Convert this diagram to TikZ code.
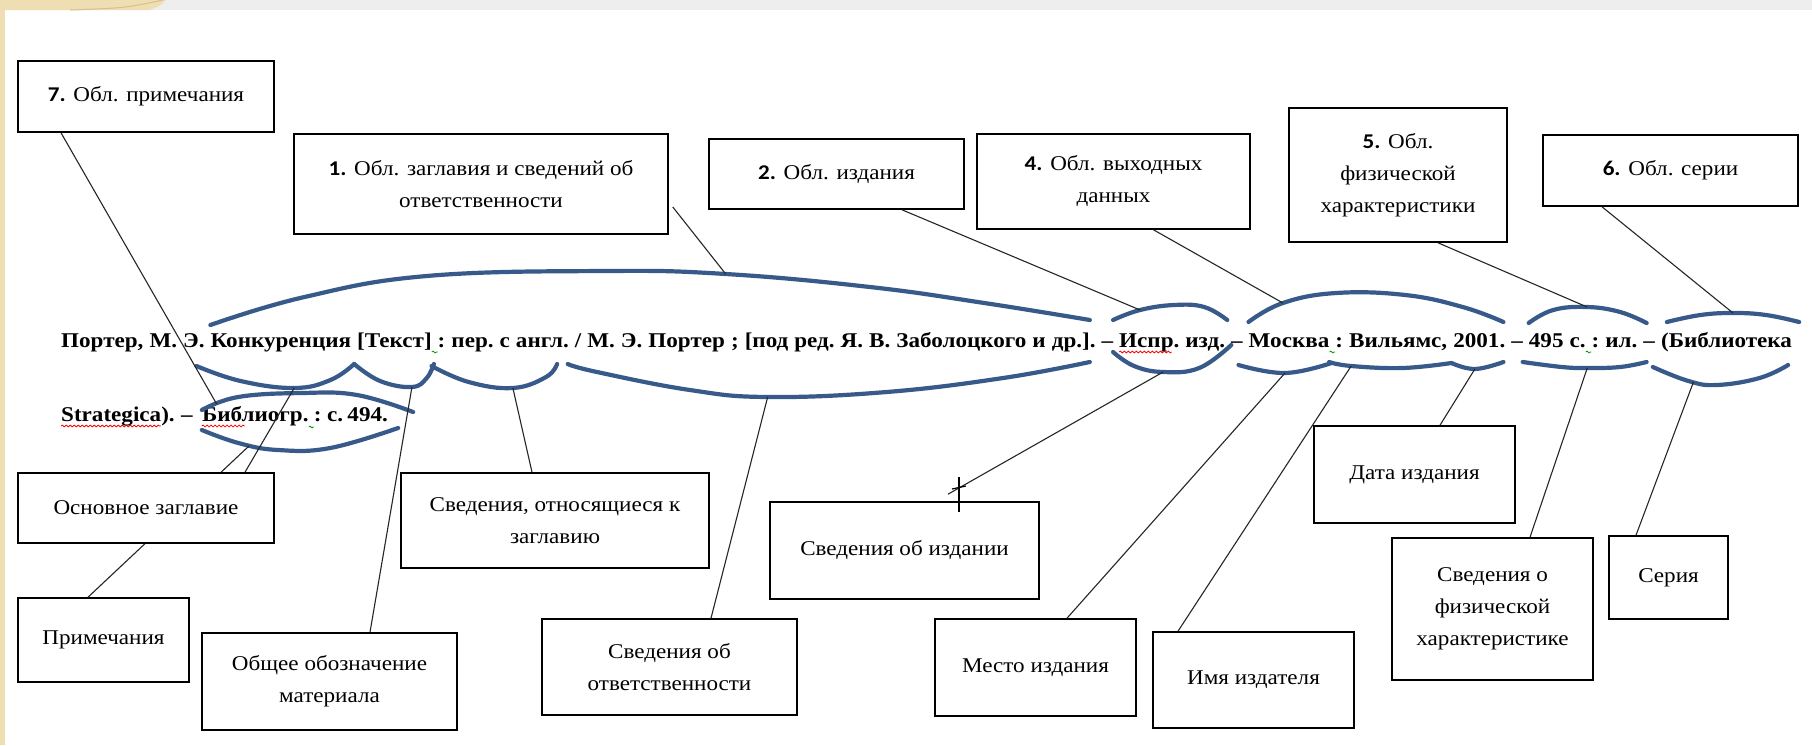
\documentclass[tikz,border=0pt]{standalone}
\usepackage{graphicx}
\usepackage{fontspec}
\setmainfont{Liberation Serif}
\newfontfamily\numfont{Carlito}
\usetikzlibrary{calc,decorations.pathmorphing}
\definecolor{arcblue}{RGB}{56,90,138}
\definecolor{beige}{RGB}{238,222,178}
\definecolor{beigedark}{RGB}{214,192,140}
\definecolor{topgray}{RGB}{238,238,238}
\newcommand{\nb}[1]{{\numfont\bfseries #1}}
\newcommand{\sx}[1]{\scalebox{1.1}[1]{#1}}
\newlength\natw
\newlength\gapw
\newcommand{\xref}[3]{\coordinate (tmp#1) at ([xshift=#3pt]#2); \coordinate (#1) at (tmp#1 |- 0,0);}
\newcommand{\Wn}[3]{\node[wrd] (#1) at ([xshift=\gapw]#2.base east) {\sx{#3}};}
\begin{document}%
\settowidth\natw{\fontsize{21}{24}\selectfont\bfseries Портер,М.Э.Конкуренция[Текст]:пер.сангл./М.Э.Портер;[подред.Я.В.Заболоцкогоидр.].–Испр.изд.–Москва:Вильямс,2001.–495с.:ил.–(Библиотека}%
\global\natw=\natw%
\setlength\gapw{\dimexpr(1717pt-\natw*11/10)/35\relax}%
\global\gapw=\gapw%
\begin{tikzpicture}[x=1pt,y=-1pt,
  lbl/.style={draw=black, line width=1.6pt, fill=white, inner sep=2pt, align=center, font=\fontsize{21}{32}\selectfont},
  wrd/.style={anchor=base west, inner sep=0pt, font=\fontsize{21}{24}\selectfont\bfseries},
  brace/.style={draw=arcblue, line width=4.2pt, line cap=round},
  conn/.style={draw=black!85, line width=1.1pt},
  squig/.style={decorate, decoration={snake, amplitude=0.9pt, segment length=4pt}, line width=0.8pt}]
\useasboundingbox (0,0) rectangle (1812,745);
% background
\fill[white] (0,0) rectangle (1812,745);
\fill[topgray] (0,0) rectangle (1812,10);
\fill[beige] (0,0) rectangle (5,745);
\fill[beige] (0,0) -- (166,0) .. controls (160,6) .. (150,10) -- (0,10) -- cycle;
\draw[beigedark, line width=1pt] (70,10) .. controls (125,8) .. (163,0);

% ---------- line 1, justified word by word ----------
\node[wrd] (w1) at (61,347) {\sx{Портер,}};
\Wn{w2}{w1}{М.}
\Wn{w3}{w2}{Э.}
\Wn{w4}{w3}{Конкуренция}
\Wn{w5}{w4}{[Текст]}
\Wn{w6}{w5}{:}
\Wn{w7}{w6}{пер.}
\Wn{w8}{w7}{с}
\Wn{w9}{w8}{англ.}
\Wn{w10}{w9}{/}
\Wn{w11}{w10}{М.}
\Wn{w12}{w11}{Э.}
\Wn{w13}{w12}{Портер}
\Wn{w14}{w13}{;}
\Wn{w15}{w14}{[под}
\Wn{w16}{w15}{ред.}
\Wn{w17}{w16}{Я.}
\Wn{w18}{w17}{В.}
\Wn{w19}{w18}{Заболоцкого}
\Wn{w20}{w19}{и}
\Wn{w21}{w20}{др.].}
\Wn{w22}{w21}{–}
\Wn{w23}{w22}{Испр.}
\Wn{w24}{w23}{изд.}
\Wn{w25}{w24}{–}
\Wn{w26}{w25}{Москва}
\Wn{w27}{w26}{:}
\Wn{w28}{w27}{Вильямс,}
\Wn{w29}{w28}{2001.}
\Wn{w30}{w29}{–}
\Wn{w31}{w30}{495}
\Wn{w32}{w31}{с.}
\Wn{w33}{w32}{:}
\Wn{w34}{w33}{ил.}
\Wn{w35}{w34}{–}
\Wn{w36}{w35}{(Библиотека}

% ---------- line 2 ----------
\node[wrd] (s1) at (61,421) {\sx{Strategica).}};
\node[wrd] (s2) at ([xshift=6pt]s1.base east) {\sx{–}};
\node[wrd] (s3) at ([xshift=9pt]s2.base east) {\sx{Библиогр.}};
\node[wrd] (s4) at ([xshift=5pt]s3.base east) {\sx{:}};
\node[wrd] (s5) at ([xshift=5pt]s4.base east) {\sx{с.}};
\node[wrd] (s6) at ([xshift=4pt]s5.base east) {\sx{494.}};

% spell-check squiggles
\draw[squig, red] ([yshift=-5pt]s1.base west) -- ([yshift=-5pt,xshift=-14pt]s1.base east);
\draw[squig, red] ([yshift=-5pt]s3.base west) -- ($([yshift=-5pt]s3.base west)!0.4!([yshift=-5pt]s3.base east)$);
\draw[squig, green!60!black] ([yshift=-6pt]s3.base east) -- ([yshift=-6pt]s4.base west);
\draw[squig, red] ([yshift=-5pt]w23.base west) -- ([yshift=-5pt,xshift=-8pt]w23.base east);
\draw[squig, green!60!black] ([yshift=-5pt]w5.base east) -- ([yshift=-5pt]w6.base west);
\draw[squig, green!60!black] ([yshift=-5pt]w26.base east) -- ([yshift=-5pt]w27.base west);
\draw[squig, green!60!black] ([yshift=-5pt]w32.base east) -- ([yshift=-5pt]w33.base west);

% ---------- horizontal references for the curves ----------
\coordinate (j45) at ($(w4.base east)!0.5!(w5.base west)$);
\xref{AL}{w4.base west}{0}
\xref{AR}{w21.base east}{-6}
\xref{BL}{w10.base west}{-7}
\xref{BR}{w21.base east}{-6}
\xref{CL}{w4.base west}{-14}
\xref{CR}{j45}{0}
\xref{DL}{j45}{0}
\xref{DR}{w5.base east}{2}
\xref{EL}{w6.base west}{-6}
\xref{ER}{w9.base east}{-12}
\xref{FL}{w23.base west}{-6}
\xref{FR}{w24.base east}{2}
\xref{FRb}{w24.base east}{6}
\xref{GL}{w26.base west}{0}
\xref{GR}{w29.base east}{-2}
\xref{HL}{w26.base west}{-10}
\xref{HR}{w26.base east}{2}
\xref{IL}{w27.base west}{-6}
\xref{IR}{w28.base east}{4}
\xref{JR}{w29.base east}{-2}
\xref{KL}{w31.base west}{0}
\xref{KR}{w34.base east}{9}
\xref{LL}{w31.base west}{-6}
\xref{ML}{w36.base west}{6}
\xref{MR}{w36.base east}{7}
\xref{NL}{w36.base west}{-8}
\xref{NR}{w36.base east}{-4}
\xref{PL}{s3.base west}{0}
\xref{PR}{s6.base east}{25}
\xref{QR}{s6.base east}{10}

% ---------- curves ----------
\draw[brace] plot[smooth, tension=0.7] coordinates {($(AL)!0!(AR)+(0,325)$) ($(AL)!0.107!(AR)+(0,297)$) ($(AL)!0.246!(AR)+(0,276)$) ($(AL)!0.449!(AR)+(0,271)$) ($(AL)!0.586!(AR)+(0,274)$) ($(AL)!0.75!(AR)+(0,287)$) ($(AL)!0.88!(AR)+(0,303)$) ($(AL)!1!(AR)+(0,320)$)};
\draw[brace] plot[smooth, tension=0.7] coordinates {($(BL)!0!(BR)+(0,364)$) ($(BL)!0.056!(BR)+(0,372)$) ($(BL)!0.234!(BR)+(0,390)$) ($(BL)!0.383!(BR)+(0,397)$) ($(BL)!0.611!(BR)+(0,392)$) ($(BL)!0.834!(BR)+(0,378)$) ($(BL)!1!(BR)+(0,362)$)};
\draw[brace] plot[smooth, tension=0.7] coordinates {($(CL)!0!(CR)+(0,366)$) ($(CL)!0.28!(CR)+(0,381)$) ($(CL)!0.62!(CR)+(0,388)$) ($(CL)!0.85!(CR)+(0,380)$) ($(CL)!1!(CR)+(0,364)$)};
\draw[brace] plot[smooth, tension=0.7] coordinates {($(DL)!0!(DR)+(0,364)$) ($(DL)!0.325!(DR)+(0,381)$) ($(DL)!0.725!(DR)+(0,387)$) ($(DL)!0.91!(DR)+(0,378)$) ($(DL)!1!(DR)+(0,364)$)};
\draw[brace] plot[smooth, tension=0.7] coordinates {($(EL)!0!(ER)+(0,366)$) ($(EL)!0.296!(ER)+(0,382)$) ($(EL)!0.648!(ER)+(0,388)$) ($(EL)!0.912!(ER)+(0,377)$) ($(EL)!1!(ER)+(0,364)$)};
\draw[brace] plot[smooth, tension=0.7] coordinates {($(FL)!0!(FR)+(0,320)$) ($(FL)!0.237!(FR)+(0,310)$) ($(FL)!0.535!(FR)+(0,305)$) ($(FL)!0.798!(FR)+(0,307)$) ($(FL)!1!(FR)+(0,320)$)};
\draw[brace] plot[smooth, tension=0.7] coordinates {($(FL)!0!(FRb)+(0,352)$) ($(FL)!0.178!(FRb)+(0,366)$) ($(FL)!0.424!(FRb)+(0,372)$) ($(FL)!0.729!(FRb)+(0,368)$) ($(FL)!1!(FRb)+(0,345)$)};
\draw[brace] plot[smooth, tension=0.7] coordinates {($(GL)!0!(GR)+(0,322)$) ($(GL)!0.135!(GR)+(0,303)$) ($(GL)!0.344!(GR)+(0,293)$) ($(GL)!0.615!(GR)+(0,295)$) ($(GL)!0.84!(GR)+(0,307)$) ($(GL)!1!(GR)+(0,322)$)};
\draw[brace] plot[smooth, tension=0.7] coordinates {($(HL)!0!(HR)+(0,365)$) ($(HL)!0.5!(HR)+(0,373)$) ($(HL)!1!(HR)+(0,363)$)};
\draw[brace] plot[smooth, tension=0.7] coordinates {($(IL)!0!(IR)+(0,362)$) ($(IL)!0.18!(IR)+(0,366)$) ($(IL)!0.6!(IR)+(0,368)$) ($(IL)!1!(IR)+(0,363)$)};
\draw[brace] plot[smooth, tension=0.7] coordinates {($(IR)!0!(JR)+(0,363)$) ($(IR)!0.45!(JR)+(0,369)$) ($(IR)!1!(JR)+(0,362)$)};
\draw[brace] plot[smooth, tension=0.7] coordinates {($(KL)!0!(KR)+(0,323)$) ($(KL)!0.207!(KR)+(0,310)$) ($(KL)!0.495!(KR)+(0,307)$) ($(KL)!0.775!(KR)+(0,312)$) ($(KL)!1!(KR)+(0,323)$)};
\draw[brace] plot[smooth, tension=0.7] coordinates {($(LL)!0!(KR)+(0,362)$) ($(LL)!0.316!(KR)+(0,367)$) ($(LL)!0.521!(KR)+(0,368)$) ($(LL)!0.786!(KR)+(0,367)$) ($(LL)!1!(KR)+(0,362)$)};
\draw[brace] plot[smooth, tension=0.7] coordinates {($(ML)!0!(MR)+(0,322)$) ($(ML)!0.254!(MR)+(0,315)$) ($(ML)!0.5!(MR)+(0,313)$) ($(ML)!0.75!(MR)+(0,315)$) ($(ML)!1!(MR)+(0,322)$)};
\draw[brace] plot[smooth, tension=0.7] coordinates {($(NL)!0!(NR)+(0,367)$) ($(NL)!0.263!(NR)+(0,381)$) ($(NL)!0.474!(NR)+(0,385)$) ($(NL)!0.789!(NR)+(0,378)$) ($(NL)!1!(NR)+(0,365)$)};
\draw[brace] plot[smooth, tension=0.7] coordinates {($(PL)!0!(PR)+(0,410)$) ($(PL)!0.172!(PR)+(0,397)$) ($(PL)!0.473!(PR)+(0,393)$) ($(PL)!0.734!(PR)+(0,395)$) ($(PL)!1!(PR)+(0,412)$)};
\draw[brace] plot[smooth, tension=0.7] coordinates {($(PL)!0!(QR)+(0,430)$) ($(PL)!0.186!(QR)+(0,443)$) ($(PL)!0.388!(QR)+(0,450)$) ($(PL)!0.654!(QR)+(0,448)$) ($(PL)!1!(QR)+(0,428)$)};

% ---------- connector end points on the curves ----------
\coordinate (e7) at ($(PL)!0.07!(PR)+(0,404)$);
\coordinate (e1) at ($(AL)!0.586!(AR)+(0,274)$);
\coordinate (e2) at ($(FL)!0.237!(FR)+(0,310)$);
\coordinate (e4) at ($(GL)!0.135!(GR)+(0,303)$);
\coordinate (e5) at ($(KL)!0.495!(KR)+(0,307)$);
\coordinate (e6) at ($(ML)!0.5!(MR)+(0,313)$);
\coordinate (ep) at ($(PL)!0.24!(QR)+(0,446)$);
\coordinate (eo) at ($(CL)!0.62!(CR)+(0,388)$);
\coordinate (eg) at ($(DL)!0.725!(DR)+(0,387)$);
\coordinate (en) at ($(EL)!0.648!(ER)+(0,388)$);
\coordinate (ev) at ($(BL)!0.383!(BR)+(0,397)$);
\coordinate (ei) at ($(FL)!0.424!(FRb)+(0,372)$);
\coordinate (em) at ($(HL)!0.5!(HR)+(0,373)$);
\coordinate (ey) at ($(IL)!0.18!(IR)+(0,366)$);
\coordinate (ed) at ($(IR)!0.45!(JR)+(0,369)$);
\coordinate (ef) at ($(LL)!0.521!(KR)+(0,368)$);
\coordinate (es) at ($(NL)!0.3!(NR)+(0,382)$);

% ---------- top boxes ----------
\node[lbl] (b7) at (146,96.5) [minimum width=256pt, minimum height=71pt] {\sx{\nb{7.} Обл. примечания}};
\node[lbl] (b1) at (481,184) [minimum width=374pt, minimum height=100pt] {\sx{\nb{1.} Обл. заглавия и сведений об}\\\sx{ответственности}};
\node[lbl] (b2) at (836.5,174) [minimum width=255pt, minimum height=70pt] {\sx{\nb{2.} Обл. издания}};
\node[lbl] (b4) at (1113.5,181.5) [minimum width=273pt, minimum height=95pt] {\sx{\nb{4.} Обл. выходных}\\\sx{данных}};
\node[lbl] (b5) at (1398,175) [minimum width=218pt, minimum height=134pt] {\sx{\nb{5.} Обл.}\\\sx{физической}\\\sx{характеристики}};
\node[lbl] (b6) at (1670.5,170.5) [minimum width=255pt, minimum height=71pt] {\sx{\nb{6.} Обл. серии}};

\draw[conn] ([xshift=-85pt]b7.south) -- (e7);
\draw[conn] ([yshift=-23pt,xshift=4pt]b1.east) -- (e1);
\draw[conn] ([xshift=65.5pt]b2.south) -- (e2);
\draw[conn] ([xshift=40pt]b4.south) -- (e4);
\draw[conn] ([xshift=40pt]b5.south) -- (e5);
\draw[conn] ([xshift=-68.5pt]b6.south) -- (e6);

% ---------- bottom boxes ----------
\node[lbl] (prim) at (103.5,640) [minimum width=171pt, minimum height=84pt] {\sx{Примечания}};
\draw[conn] ([xshift=-15.5pt]prim.north) -- (ep);
\node[lbl] (osn) at (146,508) [minimum width=256pt, minimum height=70pt] {\sx{Основное заглавие}};
\node[lbl] (obsh) at (329.5,681.5) [minimum width=255pt, minimum height=97pt] {\sx{Общее обозначение}\\\sx{материала}};
\node[lbl] (otn) at (555,520.5) [minimum width=308pt, minimum height=95pt] {\sx{Сведения, относящиеся к}\\\sx{заглавию}};
\node[lbl] (otv) at (669.5,667) [minimum width=255pt, minimum height=96pt] {\sx{Сведения об}\\\sx{ответственности}};
\node[lbl] (izd) at (904.5,550.5) [minimum width=269pt, minimum height=97pt] {\sx{Сведения об издании}};
\node[lbl] (mesto) at (1035.5,667.5) [minimum width=201pt, minimum height=97pt] {\sx{Место издания}};
\node[lbl] (imya) at (1253.5,680) [minimum width=201pt, minimum height=96pt] {\sx{Имя издателя}};
\node[lbl] (data) at (1414.5,474.5) [minimum width=201pt, minimum height=97pt] {\sx{Дата издания}};
\node[lbl] (fiz) at (1492.5,609) [minimum width=201pt, minimum height=142pt] {\sx{Сведения о}\\\sx{физической}\\\sx{характеристике}};
\node[lbl] (seria) at (1668.5,577.5) [minimum width=119pt, minimum height=83pt] {\sx{Серия}};

\draw[conn] ([xshift=99pt]osn.north) -- (eo);
\draw[conn] ([xshift=40.5pt]obsh.north) -- (eg);
\draw[conn] ([xshift=-23pt]otn.north) -- (en);
\draw[conn] ([xshift=41.5pt]otv.north) -- (ev);
\draw[conn] ([xshift=43.5pt,yshift=7pt]izd.north) -- (ei);
\draw[conn] ([xshift=31.5pt]mesto.north) -- (em);
\draw[conn] ([xshift=-75.5pt]imya.north) -- (ey);
\draw[conn] ([xshift=25.5pt]data.north) -- (ed);
\draw[conn] ([xshift=37.5pt]fiz.north) -- (ef);
\draw[conn] ([xshift=-32.5pt]seria.north) -- (es);

% text cursor mark
\draw[black, line width=2pt] (959,477) -- (959,512);
\draw[black, line width=1.2pt] (952,489) -- (966,486);
\end{tikzpicture}
\end{document}
